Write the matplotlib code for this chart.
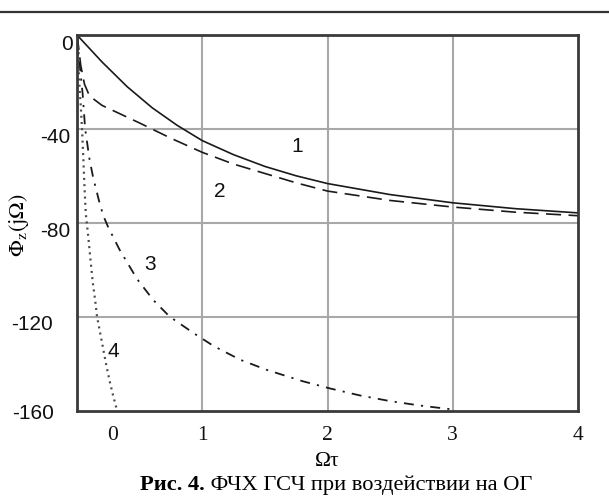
import matplotlib
matplotlib.use("Agg")
import matplotlib.pyplot as plt
import matplotlib.transforms as mtransforms
from matplotlib.lines import Line2D

# ---- data ----
x1 = [0, 0.2, 0.4, 0.6, 0.8, 1.0, 1.25, 1.5, 1.75, 2.0, 2.5, 3.0, 3.5, 4.0]
y1 = [0, -11.5, -22, -31, -38.5, -45, -51, -56, -60, -63.3, -68, -71.5, -74, -75.8]

x2 = [0, 0.01, 0.03, 0.06, 0.1, 0.2, 0.3, 0.5, 0.75, 1.0, 1.25, 1.5, 1.75, 2.0, 2.5, 3.0, 3.5, 4.0]
y2 = [0, -4, -13, -21, -26, -30, -32.5, -37.5, -44, -50, -55, -59, -63, -66.5, -70.5, -73.3, -75.5, -77]

x3 = [0, 0.02, 0.045, 0.065, 0.1, 0.13, 0.18, 0.21, 0.25, 0.34, 0.48, 0.61, 0.74, 0.93,
      1.09, 1.3, 1.51, 1.8, 2.02, 2.26, 2.5, 2.74, 2.99]
y3 = [0, -12, -25, -40, -53, -61, -71.5, -77, -82, -91.5, -104, -113, -120, -127,
      -132.5, -138.3, -142.6, -147.5, -150.6, -153.6, -156, -157.9, -159.5]

x4 = [0, 0.005, 0.012, 0.02, 0.03, 0.04, 0.05, 0.06, 0.07, 0.09, 0.11, 0.125, 0.145,
      0.16, 0.185, 0.21, 0.235, 0.263, 0.29, 0.32]
y4 = [0, -6, -14, -22, -30, -40, -52, -65, -76, -86, -97, -105, -113,
      -120, -127, -134, -141, -148, -154, -160]

curve_labels = ["1", "2", "3", "4"]
label_pos_x = [1.76, 1.14, 0.58, 0.29]
label_pos_y = [-47.5, -66.7, -97.9, -134.7]

xticks = [0, 1, 2, 3, 4]
yticks = [0, -40, -80, -120, -160]
xtick_labels = ["0", "1", "2", "3", "4"]
ytick_labels = ["0", "-40", "-80", "-120", "-160"]

W, H = 609, 497
fig = plt.figure(figsize=(W / 100, H / 100), dpi=100)
ax = fig.add_axes([77 / W, 1 - 410.5 / H, (578 - 77) / W, (410.5 - 35) / H])

col = "#1a1a1a"
ax.plot(x1, y1, color=col, lw=1.2, solid_capstyle="butt")
ax.plot(x2, y2, color=col, lw=1.2, dashes=[9, 4.5])
ax.plot(x3, y3, color=col, lw=1.3, dashes=[5.5, 4, 1.2, 4])
ax.plot(x4, y4, color="#4a4a4a", lw=1.6, dashes=[0.9, 1.9])

for t, xp, yp in zip(curve_labels, label_pos_x, label_pos_y):
    ax.text(xp, yp, t, fontsize=15, family="Liberation Sans", color="#111",
            ha="center", va="center")

ax.set_xlim(0, 4)
ax.set_ylim(-160, 0)
ax.set_xticks(xticks)
ax.set_xticklabels(xtick_labels)
ax.set_yticks(yticks)
ax.set_yticklabels(ytick_labels)
ax.tick_params(length=0, labelsize=15, colors="#111")
for lab in ax.get_xticklabels():
    lab.set_family("Liberation Serif")
    lab.set_fontsize(15.5)
for lab in ax.get_yticklabels():
    lab.set_family("Liberation Sans")
    lab.set_fontsize(15)

# grid only at interior lines
for gx in [1, 2, 3]:
    ax.axvline(gx, color="#a8a8a8", lw=1.5, zorder=0)
for gy in [-40, -80, -120]:
    ax.axhline(gy, color="#a8a8a8", lw=1.5, zorder=0)

for s in ax.spines.values():
    s.set_color("#3a3a3a")
    s.set_linewidth(2.0)

# tick label offsets (mimic the reference placement)
ax.tick_params(axis="x", pad=11)
ax.tick_params(axis="y", pad=3)
xoff = [36, 0, 0, 0, 0]
for lab, dx in zip(ax.get_xticklabels(), xoff):
    lab.set_transform(lab.get_transform() + mtransforms.ScaledTranslation(dx / 100, 0, fig.dpi_scale_trans))
yoff = [(0, -7), (-2, -7), (-2, -7), (-20, -6), (-19, -1)]
for lab, (dx, dy) in zip(ax.get_yticklabels(), yoff):
    lab.set_transform(lab.get_transform() + mtransforms.ScaledTranslation(dx / 100, dy / 100, fig.dpi_scale_trans))

ax.set_xlabel("Ωτ", family="Liberation Serif", fontsize=15.5, labelpad=5)
plt.rcParams["mathtext.fontset"] = "stix"
fig.text(19 / W, 1 - 225 / H, r"$\mathrm{\Phi_z(j\Omega)}$", rotation=90,
         ha="center", va="center", fontsize=16)

# top rule
fig.add_artist(Line2D([0, 1], [1 - 12 / H, 1 - 12 / H], color="#333", lw=1.6))

# caption
fig.canvas.draw()
r = fig.canvas.get_renderer()
cap_y = 1 - 485 / H
t1 = fig.text(0, cap_y, "Рис. 4.", family="Liberation Serif", fontweight="bold",
              fontsize=16.2, va="center", ha="left")
t2 = fig.text(0, cap_y, " ФЧХ ГСЧ при воздействии на ОГ", family="Liberation Serif",
              fontsize=16.2, va="center", ha="left")
w1 = t1.get_window_extent(r).width
w2 = t2.get_window_extent(r).width
x0 = (336 - (w1 + w2) / 2)
t1.set_x(x0 / W)
t2.set_x((x0 + w1) / W)

fig.savefig("out.png", dpi=100)
